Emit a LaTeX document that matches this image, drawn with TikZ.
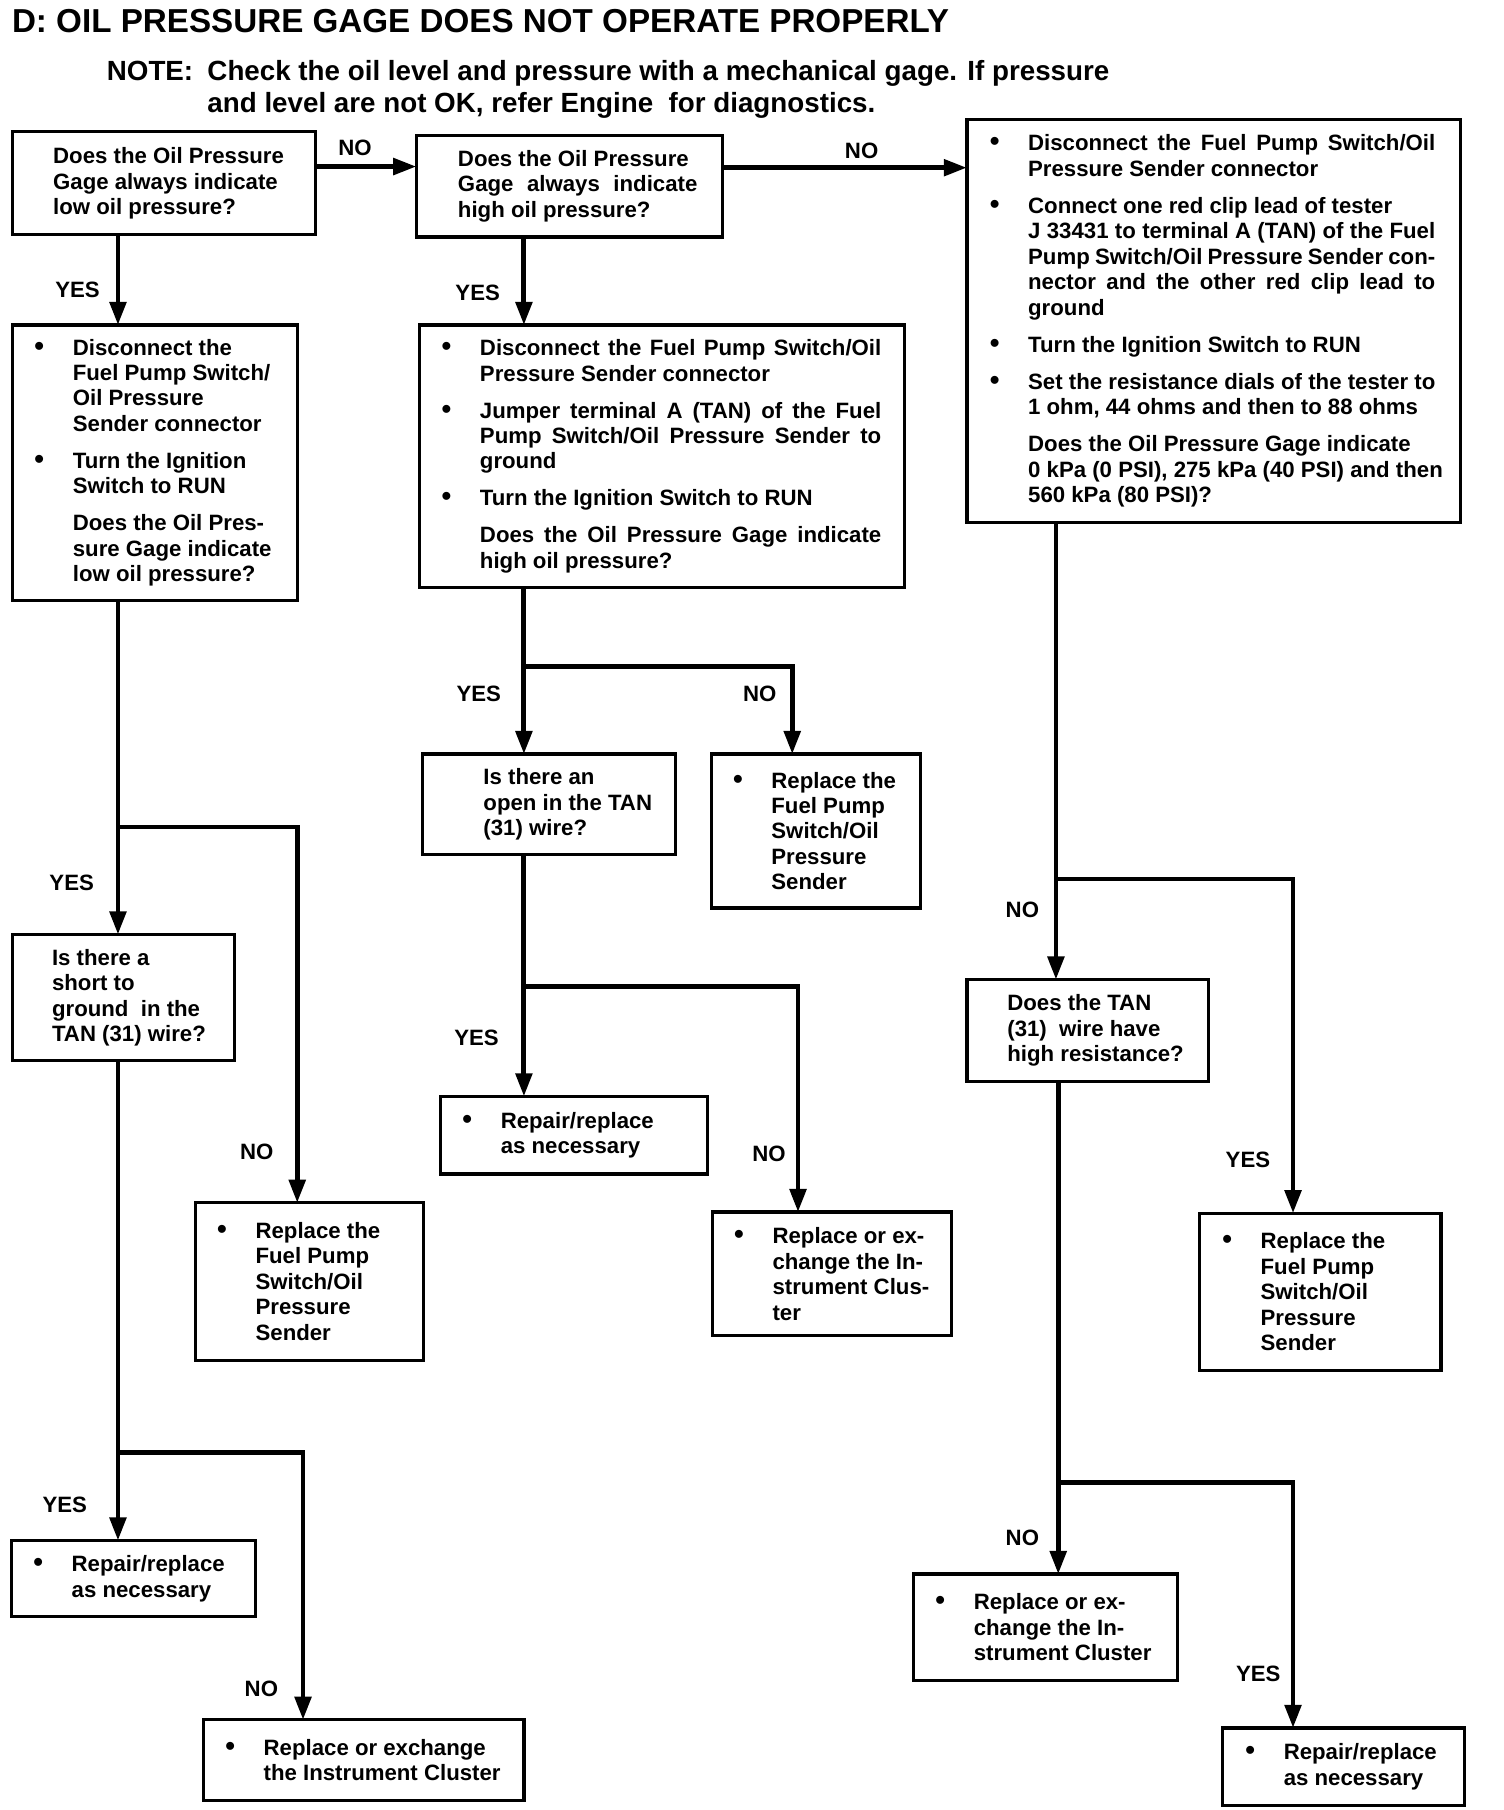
\documentclass[tikz,border=0pt]{standalone}
\usepackage{fontspec}
\setmainfont{Liberation Sans}
\usetikzlibrary{arrows.meta,calc}

\newcommand{\bul}{\leavevmode\llap{{\fontsize{12}{11}\selectfont\textbullet}\hspace{12.4pt}}}
\newcommand{\boxpad}[1]{\parindent=0pt\parskip=0pt\leftskip=#1\relax\rightskip=-30pt plus 1fil\relax\noindent}
\newcommand{\jline}[2]{\makebox[#1][s]{#2}}

\begin{document}
\begin{tikzpicture}[x=0.5pt,y=-0.5pt,line join=miter,
  box/.style={draw,line width=1.4pt,anchor=north west,outer sep=0pt,inner xsep=0pt,inner ysep=0pt,align=flush left,font=\fontsize{9.6}{11}\selectfont\bfseries},
  lbl/.style={inner sep=0pt,font=\fontsize{9.6}{11}\selectfont\bfseries},
  arr/.style={line width=2.1pt,-{Triangle[length=10pt,width=7pt]}}]
\fill[white] (0,0) rectangle (1300,1565);
\useasboundingbox (0,0) rectangle (1300,1565);

\node[anchor=base west,inner sep=0pt,font=\fontsize{14.35}{16}\selectfont\bfseries] (ttl) at (10,28) {D: OIL PRESSURE GAGE DOES NOT OPERATE PROPERLY};
\node[anchor=base west,inner sep=0pt,font=\fontsize{12}{13.5}\selectfont\bfseries] (nt0) at (92,70) {NOTE:};
\node[anchor=base west,inner sep=0pt,font=\fontsize{12}{13.5}\selectfont\bfseries] (nt1) at (179,70) {Check the oil level and pressure with a mechanical gage. If pressure};
\node[anchor=base west,inner sep=0pt,font=\fontsize{12}{13.5}\selectfont\bfseries] (nt2) at (179,97) {and level are not OK, refer Engine\ \ for diagnostics.};

\node[box,text width=131pt,minimum height=44.5pt] (b1) at (11,114) {\boxpad{17.5pt}Does the Oil Pressure\\ Gage always indicate\\ low oil pressure?\par};
\node[box,text width=132.5pt,minimum height=44pt] (b2) at (360,117) {\boxpad{18pt}Does the Oil Pressure\\ \jline{103.5pt}{Gage always indicate}\\ high oil pressure?\par};
\node[box,text width=213.5pt,minimum height=174.5pt] (b3) at (836,103) {\boxpad{26.5pt}\bul\jline{176pt}{Disconnect the Fuel Pump Switch/Oil}\\
Pressure Sender connector\\[5pt]
\bul Connect one red clip lead of tester\\
\jline{176pt}{J 33431 to terminal A (TAN) of the Fuel}\\
\jline{176pt}{Pump Switch/Oil Pressure Sender con-}\\
\jline{176pt}{nector and the other red clip lead to}\\
ground\\[5pt]
\bul Turn the Ignition Switch to RUN\\[5pt]
\bul Set the resistance dials of the tester to\\
1 ohm, 44 ohms and then to 88 ohms\\[5pt]
Does the Oil Pressure Gage indicate\\
0 kPa (0 PSI), 275 kPa (40 PSI) and then\\
560 kPa (80 PSI)?\par};
\node[box,text width=123pt,minimum height=119pt] (b4) at (11,281) {\boxpad{26pt}\bul Disconnect the\\ Fuel Pump Switch/\\ Oil Pressure\\ Sender connector\\[5pt]
\bul Turn the Ignition\\ Switch to RUN\\[5pt]
Does the Oil Pres-\\ sure Gage indicate\\ low oil pressure?\par};
\node[box,text width=209.5pt,minimum height=113.5pt] (b5) at (363,281) {\boxpad{26pt}\bul\jline{173.5pt}{Disconnect the Fuel Pump Switch/Oil}\\
Pressure Sender connector\\[5pt]
\bul\jline{173.5pt}{Jumper terminal A (TAN) of the Fuel}\\
\jline{173.5pt}{Pump Switch/Oil Pressure Sender to}\\
ground\\[5pt]
\bul Turn the Ignition Switch to RUN\\[5pt]
\jline{173.5pt}{Does the Oil Pressure Gage indicate}\\
high oil pressure?\par};
\node[box,text width=109.5pt,minimum height=43.5pt] (b6) at (365,652) {\boxpad{26.5pt}Is there an\\ open in the TAN\\ (31) wire?\par};
\node[box,text width=90.5pt,minimum height=66.5pt] (b7) at (615,652) {\boxpad{26pt}\bul Replace the\\ Fuel Pump\\ Switch/Oil\\ Pressure\\ Sender\par};
\node[box,text width=115.5pt,minimum height=33.5pt] (b8) at (381,948) {\boxpad{26pt}\bul Repair/replace\\ as necessary\par};
\node[box,text width=103.5pt,minimum height=53.5pt] (b9) at (616,1048) {\boxpad{26pt}\bul Replace or ex-\\ change the In-\\ strument Clus-\\ ter\par};
\node[box,text width=96pt,minimum height=54.5pt] (b10) at (11,808) {\boxpad{17pt}Is there a\\ short to\\ ground~ in the\\ TAN (31) wire?\par};
\node[box,text width=98.5pt,minimum height=68pt] (b11) at (169,1040) {\boxpad{26pt}\bul Replace the\\ Fuel Pump\\ Switch/Oil\\ Pressure\\ Sender\par};
\node[box,text width=105.5pt,minimum height=33pt] (b12) at (10,1332) {\boxpad{26pt}\bul Repair/replace\\ as necessary\par};
\node[box,text width=138.5pt,minimum height=35pt] (b13) at (176,1487) {\boxpad{26pt}\bul Replace or exchange\\ the Instrument Cluster\par};
\node[box,text width=104.5pt,minimum height=44pt] (b14) at (836,847) {\boxpad{17.5pt}Does the TAN\\ (31)~ wire have\\ high resistance?\par};
\node[box,text width=104.5pt,minimum height=68pt] (b15) at (1037,1049) {\boxpad{26.5pt}\bul Replace the\\ Fuel Pump\\ Switch/Oil\\ Pressure\\ Sender\par};
\node[box,text width=114pt,minimum height=46pt] (b16) at (790,1361) {\boxpad{26pt}\bul Replace or ex-\\ change the In-\\ strument Cluster\par};
\node[box,text width=104.5pt,minimum height=33.5pt] (b17) at (1057,1494) {\boxpad{26.5pt}\bul Repair/replace\\ as necessary\par};

\coordinate (c1) at (307,144);
\coordinate (c2) at (745,145);
\coordinate (c3) at (102,251);
\coordinate (c4) at (453,253);
\coordinate (j1) at (453,576); \coordinate (k1) at (685,576);
\coordinate (j2) at (453,853); \coordinate (k2) at (690,853);
\coordinate (j3) at (102,715); \coordinate (k3) at (257,715);
\coordinate (j4) at (102,1256); \coordinate (k4) at (262,1256);
\coordinate (j5) at (913,760); \coordinate (k5) at (1118,760);
\coordinate (j6) at (915,1282); \coordinate (k6) at (1118,1282);

\draw[arr] (b1.east |- c1) -- (b2.west |- c1);
\draw[arr] (b2.east |- c2) -- (b3.west |- c2);
\draw[arr] (b1.south -| c3) -- (b4.north -| c3);
\draw[arr] (b2.south -| c4) -- (b5.north -| c4);
\draw[arr] (b5.south -| j1) -- (b6.north -| j1);
\draw[arr] (j1) -- (k1) -- (b7.north -| k1);
\draw[arr] (b6.south -| j2) -- (b8.north -| j2);
\draw[arr] (j2) -- (k2) -- (b9.north -| k2);
\draw[arr] (b4.south -| j3) -- (b10.north -| j3);
\draw[arr] (j3) -- (k3) -- (b11.north -| k3);
\draw[arr] (b10.south -| j4) -- (b12.north -| j4);
\draw[arr] (j4) -- (k4) -- (b13.north -| k4);
\draw[arr] (b3.south -| j5) -- (b14.north -| j5);
\draw[arr] (j5) -- (k5) -- (b15.north -| k5);
\draw[arr] (b14.south -| j6) -- (b16.north -| j6);
\draw[arr] (j6) -- (k6) -- (b17.north -| k6);

\node[lbl] (l1) at (307,128) {NO};
\node[lbl] (l2) at (745,130) {NO};
\node[lbl] (l3) at (67,251) {YES};
\node[lbl] (l4) at (413,253) {YES};
\node[lbl] (l5) at (414,600) {YES};
\node[lbl] (l6) at (657,600) {NO};
\node[lbl] (l7) at (412,897) {YES};
\node[lbl] (l8) at (665,998) {NO};
\node[lbl] (l9) at (62,763) {YES};
\node[lbl] (l10) at (222,996) {NO};
\node[lbl] (l11) at (56,1301) {YES};
\node[lbl] (l12) at (226,1460) {NO};
\node[lbl] (l13) at (884,787) {NO};
\node[lbl] (l14) at (1079,1003) {YES};
\node[lbl] (l15) at (884,1330) {NO};
\node[lbl] (l16) at (1088,1447) {YES};
\end{tikzpicture}
\end{document}
